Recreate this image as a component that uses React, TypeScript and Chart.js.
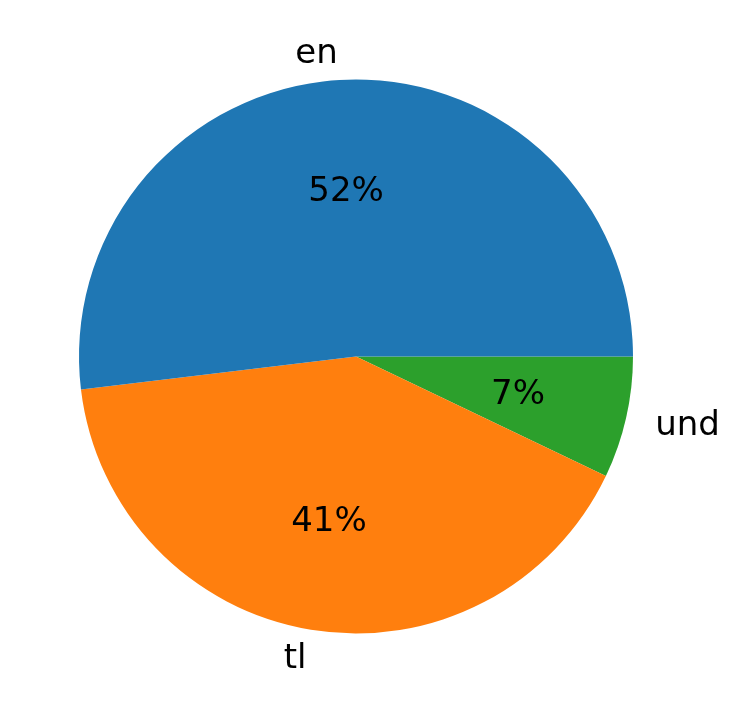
import React, { useEffect, useRef } from "react";
import { Chart, registerables } from "chart.js";

Chart.register(...registerables);

// Slices listed clockwise from 3 o'clock (matplotlib draws CCW: en, tl, und)
const labels = ["und", "tl", "en"];
const values = [7.1, 41.0, 51.9];
const colors = ["#2ca02c", "#ff7f0e", "#1f77b4"];

const FONT = "34px 'DejaVu Sans', sans-serif";

const pieLabels = {
  id: "pieLabels",
  afterDatasetsDraw(chart: any) {
    const ctx = chart.ctx;
    const meta = chart.getDatasetMeta(0);
    const data = chart.data.datasets[0].data as number[];
    const total = data.reduce((a, b) => a + b, 0);
    ctx.save();
    ctx.font = FONT;
    ctx.fillStyle = "#000000";
    ctx.textBaseline = "middle";
    meta.data.forEach((arc: any, i: number) => {
      const { x, y, startAngle, endAngle, outerRadius } = arc.getProps(
        ["x", "y", "startAngle", "endAngle", "outerRadius"],
        true
      );
      const mid = (startAngle + endAngle) / 2;
      const cx = Math.cos(mid);
      const cy = Math.sin(mid);
      // outer category label
      const lx = x + cx * outerRadius * 1.1;
      const ly = y + cy * outerRadius * 1.1 + 2;
      ctx.textAlign = cx > 0 ? "left" : "right";
      ctx.fillText(chart.data.labels[i], lx + (cx > 0 ? 2 : 0), ly);
      // percentage label
      const px = x + cx * outerRadius * 0.6;
      const py = y + cy * outerRadius * 0.6 + 2;
      ctx.textAlign = "center";
      ctx.fillText(Math.round((data[i] / total) * 100) + "%", px, py);
    });
    ctx.restore();
  },
};

export default function App() {
  const ref = useRef<HTMLCanvasElement>(null);
  useEffect(() => {
    if (!ref.current) return;
    const chart = new Chart(ref.current, {
      type: "pie",
      data: {
        labels,
        datasets: [
          {
            data: values,
            backgroundColor: colors,
            borderWidth: 0,
          },
        ],
      },
      options: {
        responsive: false,
        animation: false,
        rotation: 90,
        layout: { padding: { left: 79, right: 96, top: 79, bottom: 79 } },
        plugins: {
          legend: { display: false },
          tooltip: { enabled: false },
        },
      },
      plugins: [pieLabels],
    });
    return () => chart.destroy();
  }, []);
  return (
    <div style={{ position: "absolute", left: 0, top: 0, width: 729, height: 713, background: "#fff" }}>
      <canvas ref={ref} width={729} height={713} style={{ width: 729, height: 713 }} />
    </div>
  );
}
